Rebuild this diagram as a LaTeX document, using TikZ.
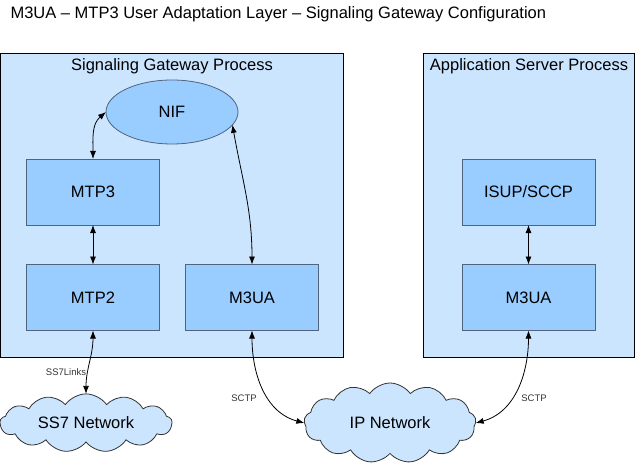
\documentclass[tikz,border=0pt]{standalone}
\usepackage{fontspec}
\setmainfont{Liberation Sans}
\usetikzlibrary{shapes.geometric,shapes.symbols,arrows.meta}
\definecolor{procfill}{RGB}{204,229,255}
\definecolor{layerfill}{RGB}{153,204,255}
\definecolor{layerdraw}{RGB}{80,100,125}
\begin{document}
\begin{tikzpicture}[x=1pt,y=-1pt,
  every node/.style={font=\fontsize{16.5}{19}\selectfont},
  proc/.style={draw=black,fill=procfill,line width=0.9pt,inner sep=0pt,outer sep=0pt},
  layer/.style={draw=layerdraw,fill=layerfill,line width=0.8pt,minimum width=133pt,minimum height=66pt,inner sep=0pt,outer sep=0pt},
  nifshape/.style={ellipse,draw=layerdraw,fill=layerfill,line width=0.8pt,minimum width=132pt,minimum height=64pt,inner sep=0pt,outer sep=0pt},
  netcloud/.style={cloud,cloud puffs=13,cloud puff arc=110,aspect=3.2,draw=black!80,fill=procfill,line width=0.8pt,inner sep=0pt,outer sep=0pt},
  conn/.style={black,line width=0.8pt,{Latex[length=8pt,width=6pt]}-{Latex[length=8pt,width=6pt]}},
  small/.style={font=\fontsize{9.5}{11}\selectfont,text=black!80}
]
\useasboundingbox (0,0) rectangle (636,465);
\node[anchor=west] (title) at (7,14) {M3UA – MTP3 User Adaptation Layer – Signaling Gateway Configuration};

\node[proc,minimum width=343pt,minimum height=304pt] (sgp) at (171.75,205) {};
\node (sgplabel) at (172,66) {Signaling Gateway Process};
\node[proc,minimum width=211pt,minimum height=304pt] (asp) at (528.5,205) {};
\node (asplabel) at (529,66) {Application Server Process};

\node[nifshape] (nif) at (172,112) {NIF};
\node[layer] (mtp3) at (93,192) {MTP3};
\node[layer] (mtp2) at (93,297.5) {MTP2};
\node[layer] (m3ua) at (252,297.5) {M3UA};
\node[layer] (isup) at (528.5,192) {ISUP/SCCP};
\node[layer] (m3uar) at (528.5,297.5) {M3UA};

\node[netcloud,minimum width=172pt,minimum height=54pt] (ss7) at (86,423) {SS7 Network};
\node[netcloud,minimum width=172pt,minimum height=80pt] (ip) at (390,423) {IP Network};

\draw[conn] (mtp3.north) to[out=90,in=220] (nif.west);
\draw[conn] (m3ua.north) to[out=90,in=-80] (nif.-12);
\draw[conn] (mtp3.south) -- (mtp2.north);
\draw[conn] (isup.south) -- (m3uar.north);
\draw[conn] (mtp2.south) to[out=-90,in=90] (ss7.north);
\draw[conn] (m3ua.south) to[out=-90,in=165] (ip.west);
\draw[conn] (m3uar.south) to[out=-90,in=15] (ip.east);

\node[small] (l1) at (66,372) {SS7Links};
\node[small] (l2) at (244,398) {SCTP};
\node[small] (l3) at (534,398) {SCTP};
\end{tikzpicture}
\end{document}
